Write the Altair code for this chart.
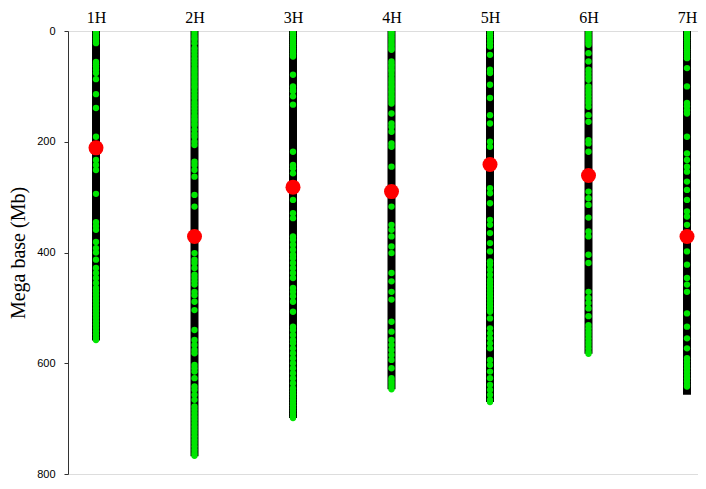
import altair as alt
import pandas as pd

chrom_names = ["1H", "2H", "3H", "4H", "5H", "6H", "7H"]
chrom_lengths = [559, 768, 699, 647, 670, 583, 657]
centromeres = [211, 371, 282, 290, 241, 261, 371]

markers_1H = [1, 4, 7, 10, 13, 16, 19, 22, 56, 60, 64, 70, 76, 87, 114, 139, 191, 233, 242, 251,
              294, 345, 352, 359, 381, 392, 400, 413, 428, 437, 446, 455, 464, 470, 476, 482, 488,
              494, 500, 506, 512, 518, 524, 530, 536, 542, 548, 554, 558]
markers_2H = [2, 7, 12, 16, 22, 31, 37, 43, 49, 55, 61, 67, 72, 76, 81, 85, 90, 94, 99, 103, 109,
              115, 121, 128, 134, 140, 146, 152, 157, 161, 166, 170, 178, 185, 191, 200, 206, 236,
              242, 251, 263, 296, 317, 401, 413, 419, 428, 440, 446, 452, 458, 471, 477, 489, 504,
              540, 558, 567, 576, 582, 603, 609, 615, 627, 642, 648, 657, 666, 678, 684, 690, 696,
              702, 708, 714, 720, 726, 732, 738, 744, 750, 756, 762, 767]
markers_3H = [1, 4, 8, 12, 16, 20, 24, 28, 32, 36, 40, 43, 46, 79, 100, 106, 109, 118, 133, 218,
              242, 248, 257, 305, 329, 338, 371, 377, 386, 395, 404, 410, 419, 428, 437, 446, 464,
              471, 479, 489, 507, 534, 540, 549, 558, 564, 573, 582, 591, 600, 609, 618, 627, 636,
              645, 651, 656, 661, 666, 671, 676, 681, 686, 691, 696, 699]
markers_4H = [1, 4, 8, 12, 16, 20, 24, 28, 32, 34, 55, 60, 64, 69, 73, 79, 85, 90, 94, 99, 103,
              108, 112, 117, 121, 126, 131, 149, 167, 173, 182, 203, 209, 245, 317, 350, 359, 371,
              389, 401, 437, 452, 471, 485, 525, 543, 558, 567, 576, 585, 594, 609, 627, 632, 637,
              642, 647]
markers_5H = [2, 6, 10, 16, 22, 28, 43, 70, 76, 97, 121, 152, 167, 200, 209, 284, 293, 311, 341,
              350, 365, 383, 398, 416, 422, 431, 440, 449, 455, 461, 467, 473, 479, 485, 491, 497,
              503, 507, 519, 537, 546, 555, 564, 573, 594, 603, 615, 627, 639, 648, 657, 666, 670]
markers_6H = [1, 5, 9, 13, 17, 21, 25, 40, 55, 70, 76, 82, 88, 100, 106, 112, 118, 124, 130, 137,
              152, 164, 197, 203, 218, 290, 302, 314, 337, 362, 371, 404, 419, 471, 482, 491, 501,
              515, 531, 537, 543, 549, 555, 561, 567, 573, 579, 583]
markers_7H = [1, 5, 9, 13, 17, 21, 25, 29, 33, 37, 41, 45, 49, 67, 100, 130, 136, 143, 149, 191,
              221, 233, 245, 254, 272, 287, 305, 326, 335, 350, 398, 422, 446, 458, 471, 510, 534,
              555, 573, 591, 597, 603, 609, 615, 621, 627, 633, 639, 642]

all_markers = [markers_1H, markers_2H, markers_3H, markers_4H, markers_5H, markers_6H, markers_7H]

df_chr = pd.DataFrame({
    "idx": list(range(1, 8)),
    "name": chrom_names,
    "start": [0] * 7,
    "end": chrom_lengths,
    "cen": centromeres,
})
rows = []
for i, ms in enumerate(all_markers):
    for m in ms:
        rows.append({"idx": i + 1, "pos": m})
df_mk = pd.DataFrame(rows)

label_expr = "[" + ",".join(["''"] + [f"'{n}'" for n in chrom_names]) + "][datum.value]"

xs = alt.Scale(domain=[0.7157, 7.1117], nice=False, zero=False)
ys = alt.Scale(domain=[0, 800], reverse=True, nice=False, zero=False)

x_axis = alt.Axis(orient="top", values=list(range(1, 8)), labelExpr=label_expr, domain=False,
                  ticks=False, grid=False, labelFont="Liberation Serif", labelFontSize=16,
                  labelColor="black", labelPadding=6, title=None, labelFlush=False,
                  labelOverlap=False, labelBound=False)
y_axis = alt.Axis(values=[0, 200, 400, 600, 800], grid=False, domainColor="#333",
                  tickColor="#333", tickSize=4, labelPadding=9, labelFont="Liberation Sans",
                  labelFontSize=11, labelColor="black", title="Mega base (Mb)",
                  titleFont="Liberation Serif", titleFontSize=20, titleFontWeight="normal",
                  titleColor="black", titlePadding=8, labelFlush=False)

bars = alt.Chart(df_chr).mark_rule(strokeWidth=8, color="black", strokeCap="butt").encode(
    x=alt.X("idx:Q", scale=xs, axis=x_axis),
    y=alt.Y("start:Q", scale=ys, axis=y_axis),
    y2="end:Q",
)
dots = alt.Chart(df_mk).mark_circle(size=40, color="#00E600", opacity=1, clip=True).encode(
    x=alt.X("idx:Q", scale=xs),
    y=alt.Y("pos:Q", scale=ys),
)
cen = alt.Chart(df_chr).mark_circle(size=225, color="#FF0000", opacity=1).encode(
    x=alt.X("idx:Q", scale=xs),
    y=alt.Y("cen:Q", scale=ys),
)

chart = alt.layer(bars, dots, cen).properties(
    width=630, height=443,
    autosize=alt.AutoSizeParams(type="none"),
    padding={"left": 60, "top": 23, "right": 0, "bottom": 7},
).configure_view(stroke=None).configure(background="white")

chart.save("out.html", embed_options={"renderer": "svg", "actions": False})
